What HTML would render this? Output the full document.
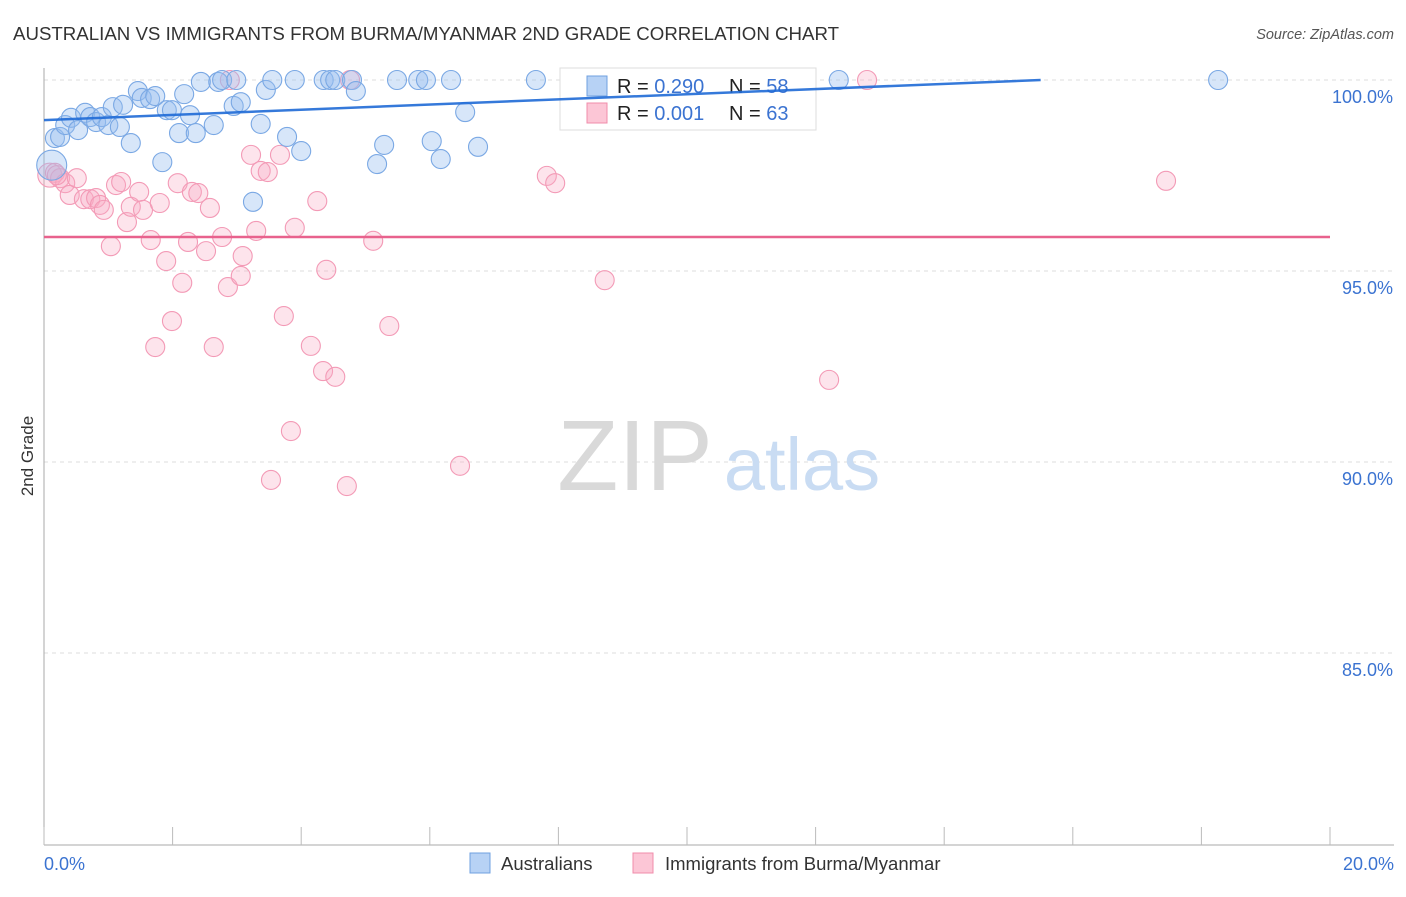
<!DOCTYPE html>
<html><head><meta charset="utf-8"><style>
body{margin:0;background:#fff;font-family:"Liberation Sans",sans-serif;}
svg text{font-family:"Liberation Sans",sans-serif;}
</style></head><body>
<svg id="chart" width="1406" height="892" viewBox="0 0 1406 892" xmlns="http://www.w3.org/2000/svg">
<text x="13" y="40" font-size="18" fill="#333" textLength="826" lengthAdjust="spacingAndGlyphs">AUSTRALIAN VS IMMIGRANTS FROM BURMA/MYANMAR 2ND GRADE CORRELATION CHART</text>
<text x="1394" y="39" font-size="14.5" fill="#555" text-anchor="end" font-style="italic">Source: ZipAtlas.com</text>
<g id="grid"></g>
<g id="axes"></g>
<g>
<text x="635" y="490" font-size="100" fill="#d9d9d9" text-anchor="middle" font-family="Liberation Serif, serif">ZIP</text>
<text x="802" y="490" font-size="74" fill="#c9dcf3" text-anchor="middle">atlas</text>
</g>
<g id="pts"></g>
<g>
<rect x="560" y="68" width="256" height="62" fill="#fff" stroke="#ddd"/>
<rect x="587" y="76" width="20" height="20" fill="#b7d2f5" stroke="#6fa0e0"/>
<rect x="587" y="103" width="20" height="20" fill="#fcc6d6" stroke="#f08cab"/>
<text x="617" y="93" font-size="20" fill="#222">R = <tspan fill="#3b73d1">0.290</tspan><tspan x="729">N = </tspan><tspan fill="#3b73d1">58</tspan></text>
<text x="617" y="120" font-size="20" fill="#222">R = <tspan fill="#3b73d1"> 0.001</tspan><tspan x="729">N = </tspan><tspan fill="#3b73d1">63</tspan></text>
</g>
<g id="lines"></g>
<g>
<rect x="470" y="853" width="20" height="20" fill="#b7d2f5" stroke="#6fa0e0"/>
<text x="501" y="870" font-size="18.5" fill="#333">Australians</text>
<rect x="633" y="853" width="20" height="20" fill="#fcc6d6" stroke="#f08cab"/>
<text x="665" y="870" font-size="18.5" fill="#333">Immigrants from Burma/Myanmar</text>
</g>
<text transform="translate(33,456) rotate(-90)" font-size="17" fill="#333" text-anchor="middle">2nd Grade</text>
</svg>
<script>
const yTicks=[100,95,90,85];
const yTickLabels=["100.0%","95.0%","90.0%","85.0%"];
const xTickLabels=["0.0%","20.0%"];
const blueX=[.17,.25,.12,.33,.42,.53,.64,.72,.81,.90,1.00,1.07,1.18,1.23,1.35,1.46,1.52,1.65,1.73,1.84,1.91,1.99,2.10,2.18,2.27,2.36,2.44,2.64,2.71,2.77,2.99,2.95,3.06,3.37,3.45,3.55,3.78,3.90,4.00,4.35,4.45,4.53,4.79,4.85,5.18,5.29,5.49,5.82,5.94,6.03,6.17,6.33,6.55,6.75,7.65,12.36,18.26,3.25];
const blueY=[98.48,98.51,97.77,98.82,99.01,98.69,99.14,99.03,98.90,99.03,98.82,99.29,98.77,99.35,98.35,99.71,99.53,99.50,99.58,97.85,99.21,99.21,98.61,99.63,99.08,98.61,99.95,98.82,99.95,100,100,99.32,99.42,98.85,99.74,100,98.51,100,98.14,100,100,100,100,99.71,97.80,98.30,100,100,100,98.40,97.93,100,99.16,98.25,100,100,100,96.81];
const pinkX=[.09,.17,.25,.33,.40,.51,.62,.72,.81,.87,.93,1.04,1.12,1.20,1.29,1.35,1.48,1.54,1.66,1.73,1.80,1.90,1.99,2.08,2.15,2.24,2.30,2.40,2.52,2.58,2.64,2.77,2.86,2.89,3.06,3.09,3.22,3.30,3.37,3.48,3.53,3.67,3.73,3.84,3.90,4.15,4.25,4.34,4.39,4.53,4.71,4.76,5.12,5.37,6.47,7.82,7.95,8.72,11.21,12.21,12.80,17.45,.20];
const pinkY=[97.51,97.57,97.43,97.30,96.99,97.43,96.88,96.88,96.91,96.73,96.60,95.65,97.25,97.33,96.28,96.68,97.07,96.60,95.81,93.01,96.78,95.26,93.69,97.30,94.69,95.76,97.07,97.04,95.52,96.65,93.01,95.89,94.58,100,94.87,95.39,98.04,96.05,97.62,97.59,89.53,98.04,93.82,90.81,96.13,93.04,96.83,92.38,95.03,92.23,89.37,100,95.79,93.56,89.90,97.49,97.30,94.76,99.01,92.15,100,97.36,97.51];
const blueTrend=[[0,98.95],[15.5,100]];
const pinkTrend=[[0,95.89],[20,95.89]];
const X0=44,X1=1330,Y100=80,PX=38.2;
const sx=v=>X0+(X1-X0)*v/20, sy=v=>Y100+(100-v)*PX;
const NS="http://www.w3.org/2000/svg";
function mk(t,a,p){const e=document.createElementNS(NS,t);for(const k in a)e.setAttribute(k,a[k]);p.appendChild(e);return e;}
const grid=document.getElementById('grid'),axes=document.getElementById('axes'),pts=document.getElementById('pts'),lines=document.getElementById('lines');
yTicks.forEach((v,i)=>{
 const g=mk('line',{x1:X0,x2:1394,y1:sy(v),y2:sy(v),stroke:'#ddd','stroke-dasharray':'4,4'},grid);
 
 
 const t=mk('text',{x:1393,y:sy(v)+23,'font-size':18,fill:'#3b73d1','text-anchor':'end'},axes);
 t.textContent=yTickLabels[i];
 
 
});
const ya=mk('line',{x1:X0,x2:X0,y1:68,y2:845,stroke:'#aaa'},axes);


const xa=mk('line',{x1:X0,x2:1394,y1:845,y2:845,stroke:'#aaa'},axes);


for(let i=0;i<=10;i++){const tk=mk('line',{x1:sx(i*2),x2:sx(i*2),y1:827,y2:845,stroke:'#bbb'},axes);
 
 }
[[0,'start'],[20,'end']].forEach((d,i)=>{const t=mk('text',{x:i?1394:44,y:870,'font-size':18,fill:'#3b73d1','text-anchor':d[1]},axes);t.textContent=xTickLabels[i];
 
 });
function dots(X,Y,fill,stroke,name,big,bigR){X.forEach((x,i)=>{const c=mk('circle',{cx:sx(x),cy:sy(Y[i]),r:i===big?bigR:9.5,fill:fill,stroke:stroke,'stroke-width':1.1},pts);
 
 });}
dots(pinkX,pinkY,'rgba(248,170,195,0.32)','#f39ab6','immigrants-point',0,12);
dots(blueX,blueY,'rgba(150,190,240,0.38)','#7aa8e4','australians-point',2,15);
const bl=mk('line',{x1:sx(blueTrend[0][0]),y1:sy(blueTrend[0][1]),x2:sx(blueTrend[1][0]),y2:sy(blueTrend[1][1]),stroke:'#1f6ad6','stroke-width':2.5,'stroke-opacity':0.9},lines);


const pl=mk('line',{x1:sx(pinkTrend[0][0]),y1:sy(pinkTrend[0][1]),x2:sx(pinkTrend[1][0]),y2:sy(pinkTrend[1][1]),stroke:'#e8628d','stroke-width':2.5},lines);


</script>
</body></html>
